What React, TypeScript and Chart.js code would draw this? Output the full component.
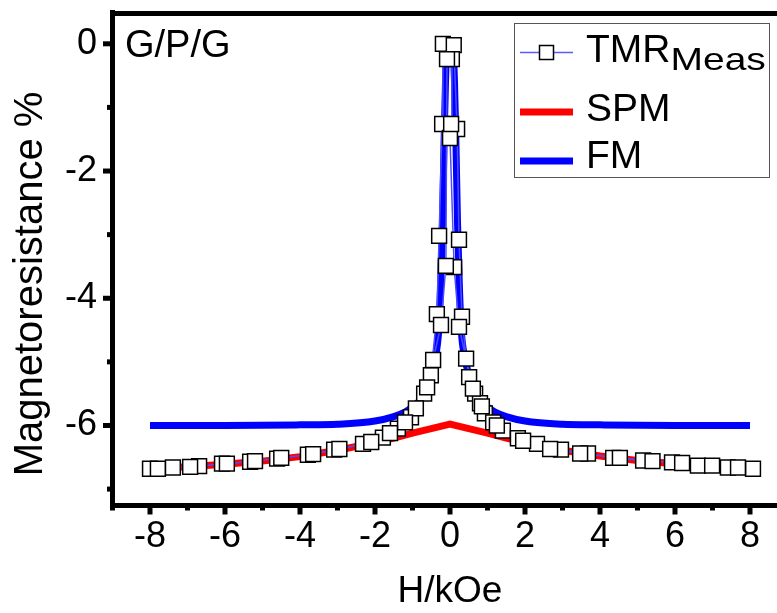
import React, { useEffect, useRef } from 'react';
import { Chart, registerables } from 'chart.js';

Chart.register(...registerables);

const FONT = "'Liberation Sans', Arial, sans-serif";

// Axis ticks
const X_TICKS = [-8, -6, -4, -2, 0, 2, 4, 6, 8];
const X_MINOR = [-9, -7, -5, -3, -1, 1, 3, 5, 7, 9];
const Y_TICKS = [-6, -4, -2, 0];
const Y_MINOR = [-7, -5, -3, -1];

// FM fit curve
const FM_H = [-8, -6, -4, -3, -2, -1.5, -1.2, -1.0, -0.8, -0.6, -0.5, -0.4, -0.3, -0.25, -0.2, -0.16, -0.12, -0.07, 0, 0.07, 0.12, 0.16, 0.2, 0.25, 0.3, 0.4, 0.5, 0.6, 0.8, 1.0, 1.2, 1.5, 2, 3, 4, 6, 8];
const FM_Y = [-6.0, -6.0, -5.99, -5.98, -5.93, -5.86, -5.79, -5.71, -5.6, -5.38, -5.2, -4.95, -4.5, -3.8, -2.8, -1.6, -0.6, 0.0, -0.1, 0.0, -0.6, -1.6, -2.8, -3.8, -4.5, -4.95, -5.2, -5.38, -5.6, -5.71, -5.79, -5.86, -5.93, -5.98, -5.99, -6.0, -6.0];

// SPM fit curve
const SPM_H = [-8, -7, -6, -5, -4, -3, -2, -1.5, -1, -0.5, 0, 0.5, 1, 1.5, 2, 3, 4, 5, 6, 7, 8];
const SPM_Y = [-6.68, -6.65, -6.61, -6.56, -6.49, -6.39, -6.27, -6.2, -6.12, -6.05, -5.98, -6.05, -6.12, -6.2, -6.27, -6.39, -6.48, -6.55, -6.6, -6.64, -6.68];

// Measured TMR, sweep up
const TMR_UP_H = [-8.0, -7.39, -6.69, -6.08, -5.33, -4.61, -3.79, -3.09, -2.32, -1.79, -1.39, -1.04, -0.69, -0.51, -0.35, -0.29, -0.21, -0.19, 0.10, 0.19, 0.24, 0.32, 0.43, 0.51, 0.67, 0.80, 0.93, 1.15, 1.41, 1.81, 2.32, 2.96, 3.68, 4.35, 5.15, 5.92, 6.61, 7.41, 8.08];
const TMR_UP_Y = [-6.68, -6.66, -6.64, -6.60, -6.57, -6.52, -6.46, -6.38, -6.29, -6.19, -6.05, -5.87, -5.50, -5.21, -4.25, -3.02, -1.26, 0.0, -0.02, -1.34, -3.08, -4.29, -4.95, -5.24, -5.50, -5.65, -5.81, -5.95, -6.08, -6.20, -6.29, -6.38, -6.44, -6.51, -6.55, -6.58, -6.63, -6.66, -6.68];

// Measured TMR, sweep down
const TMR_DOWN_H = [7.68, 6.99, 6.19, 5.40, 4.53, 3.47, 2.67, 1.95, 1.25, 0.85, 0.61, 0.24, 0.11, 0.0, 0.03, 0.05, -0.08, -0.11, -0.24, -0.45, -0.61, -0.91, -1.2, -1.6, -2.1, -2.95, -3.65, -4.5, -5.2, -5.95, -6.93, -7.79];
const TMR_DOWN_Y = [-6.66, -6.63, -6.59, -6.56, -6.51, -6.44, -6.37, -6.24, -6.0, -5.7, -5.42, -4.45, -3.51, -1.48, -1.26, -0.24, -0.24, -3.49, -4.42, -4.97, -5.40, -5.73, -5.95, -6.12, -6.26, -6.37, -6.45, -6.51, -6.56, -6.60, -6.65, -6.68];

const zip = (h: number[], v: number[]) => h.map((x, i) => ({ x, y: v[i] }));

const decorPlugin = {
  id: 'decor',
  afterDraw(chart: any) {
    const { ctx, chartArea: ca, scales } = chart;
    const xs = scales.x;
    const ys = scales.y;
    ctx.save();
    ctx.fillStyle = '#000';
    // top frame line
    ctx.fillRect(ca.left - 2.5, ca.top - 1, chart.width, 5);
    // x ticks
    const bottom = ca.bottom + 2.5;
    X_TICKS.forEach((v) => {
      const p = xs.getPixelForValue(v);
      ctx.fillRect(p - 2.5, bottom, 5, 7);
    });
    X_MINOR.forEach((v) => {
      const p = xs.getPixelForValue(v);
      ctx.fillRect(p - 2.5, bottom, 5, 3);
    });
    // y ticks
    const left = ca.left - 2.5;
    Y_TICKS.forEach((v) => {
      const p = ys.getPixelForValue(v);
      ctx.fillRect(left - 7, p - 2.5, 7, 5);
    });
    Y_MINOR.forEach((v) => {
      const p = ys.getPixelForValue(v);
      ctx.fillRect(left - 3, p - 2.5, 3, 5);
    });

    // y title
    ctx.save();
    ctx.translate(42, 284);
    ctx.rotate(-Math.PI / 2);
    ctx.font = `40px ${FONT}`;
    ctx.textAlign = 'center';
    ctx.textBaseline = 'alphabetic';
    ctx.fillText('Magnetoresistance %', 0, 0);
    ctx.restore();

    // sample label
    ctx.font = `38px ${FONT}`;
    ctx.textAlign = 'left';
    ctx.textBaseline = 'alphabetic';
    ctx.fillText('G/P/G', 125, 57);

    // legend
    ctx.strokeStyle = '#555';
    ctx.lineWidth = 1;
    ctx.strokeRect(514.5, 23.5, 255, 154);

    ctx.strokeStyle = '#5a5aff';
    ctx.lineWidth = 1.5;
    ctx.beginPath();
    ctx.moveTo(520, 52.5);
    ctx.lineTo(573, 52.5);
    ctx.stroke();
    ctx.fillStyle = '#fff';
    ctx.fillRect(539.5, 45.5, 14, 14);
    ctx.strokeStyle = '#000';
    ctx.lineWidth = 1.5;
    ctx.strokeRect(539.5, 45.5, 14, 14);

    ctx.fillStyle = '#000';
    ctx.font = `39px ${FONT}`;
    ctx.fillText('TMR', 586, 62);
    const w = ctx.measureText('TMR').width;
    ctx.save();
    ctx.translate(586 + w, 70);
    ctx.scale(1, 0.8);
    ctx.fillText('Meas', 0, 0);
    ctx.restore();

    ctx.lineWidth = 7;
    ctx.strokeStyle = '#ff0000';
    ctx.beginPath();
    ctx.moveTo(520, 112);
    ctx.lineTo(573, 112);
    ctx.stroke();
    ctx.fillText('SPM', 586, 121);

    ctx.strokeStyle = '#0000ff';
    ctx.beginPath();
    ctx.moveTo(520, 161);
    ctx.lineTo(573, 161);
    ctx.stroke();
    ctx.fillText('FM', 586, 168);

    ctx.restore();
  },
};

export default function App() {
  const ref = useRef<HTMLCanvasElement | null>(null);

  useEffect(() => {
    if (!ref.current) return;
    Chart.defaults.font.family = FONT;
    const tmrData = [...zip(TMR_UP_H, TMR_UP_Y), ...zip(TMR_DOWN_H, TMR_DOWN_Y)];
    const chart = new Chart(ref.current, {
      type: 'scatter',
      data: {
        datasets: [
          {
            label: 'TMR',
            data: tmrData,
            showLine: true,
            borderColor: '#4d4dff',
            borderWidth: 1.5,
            pointStyle: 'rect',
            pointRadius: 10.5,
            pointBackgroundColor: '#ffffff',
            pointBorderColor: '#000000',
            pointBorderWidth: 1.5,
            order: 0,
          },
          {
            label: 'FM',
            data: zip(FM_H, FM_Y),
            showLine: true,
            borderColor: '#0000ff',
            borderWidth: 7,
            pointRadius: 0,
            cubicInterpolationMode: 'monotone',
            order: 1,
          },
          {
            label: 'SPM',
            data: zip(SPM_H, SPM_Y),
            showLine: true,
            borderColor: '#ff0000',
            borderWidth: 7,
            pointRadius: 0,
            tension: 0,
            order: 2,
          },
        ],
      },
      options: {
        animation: false,
        responsive: false,
        devicePixelRatio: 1,
        layout: { padding: { left: 0, top: 11, right: 12.5, bottom: 0 } },
        plugins: { legend: { display: false }, tooltip: { enabled: false } },
        scales: {
          x: {
            type: 'linear',
            min: -9,
            max: 9,
            afterBuildTicks: (s: any) => {
              s.ticks = X_TICKS.map((v) => ({ value: v }));
            },
            afterFit: (s: any) => {
              s.height = 108;
              s.paddingLeft = 0;
              s.paddingRight = 0;
            },
            grid: { display: true, drawOnChartArea: false, drawTicks: false },
            border: { display: true, width: 5, color: '#000' },
            ticks: { color: '#000', font: { size: 36 }, padding: 10, maxRotation: 0 },
            title: {
              display: true,
              text: 'H/kOe',
              color: '#000',
              font: { size: 37, lineHeight: 1 },
              padding: { top: 0, bottom: 3 },
            },
          },
          y: {
            type: 'linear',
            min: -7.25,
            max: 0.5,
            afterBuildTicks: (s: any) => {
              s.ticks = Y_TICKS.map((v) => ({ value: v }));
            },
            afterFit: (s: any) => {
              s.width = 112.5;
              s.paddingTop = 0;
              s.paddingBottom = 0;
            },
            grid: { display: true, drawOnChartArea: false, drawTicks: false },
            border: { display: true, width: 5, color: '#000' },
            ticks: { color: '#000', font: { size: 36 }, padding: 15.5 },
          },
        },
      },
      plugins: [decorPlugin],
    } as any);
    return () => chart.destroy();
  }, []);

  return (
    <div style={{ position: 'fixed', left: 0, top: 0, width: 777, height: 613, overflow: 'hidden', background: '#fff' }}>
      <canvas ref={ref} width={800} height={613} style={{ width: 800, height: 613, display: 'block' }} />
    </div>
  );
}
